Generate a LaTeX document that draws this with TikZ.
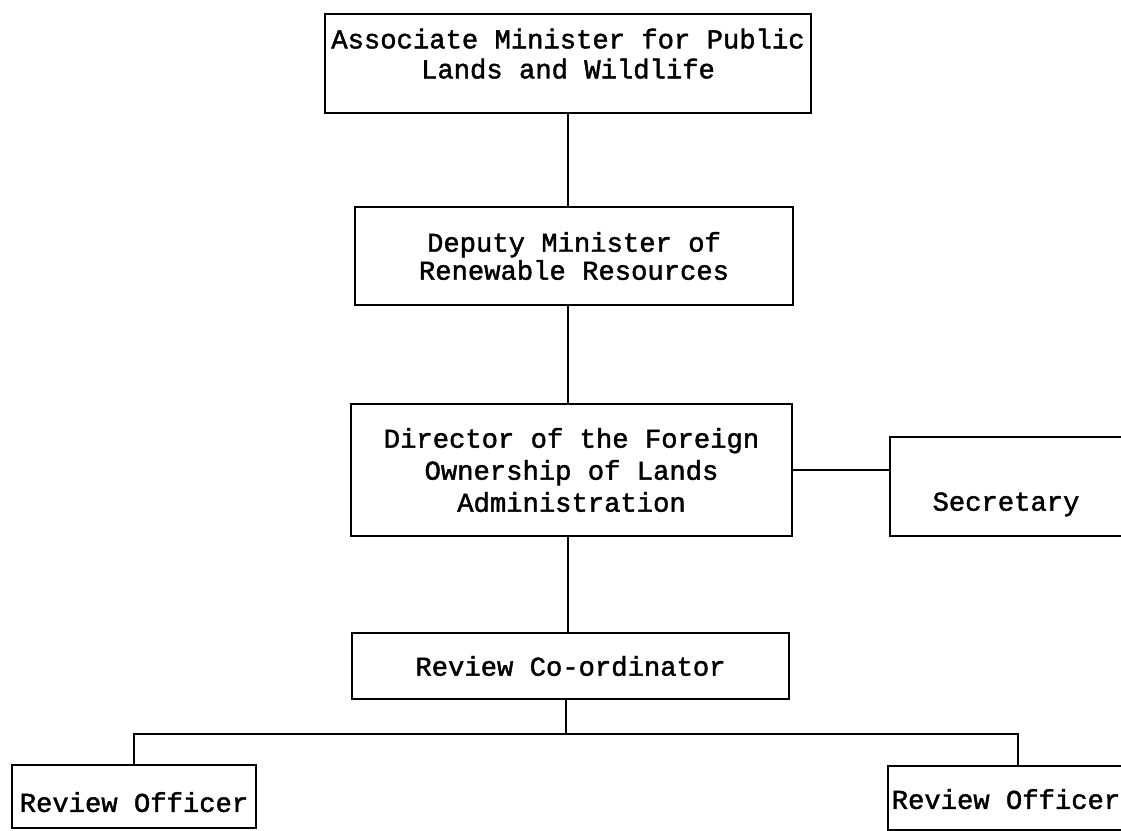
\documentclass[tikz,border=0pt]{standalone}
\usepackage{fontspec}
\newfontfamily\orgfont[FakeBold=1.6]{Liberation Mono}
\tikzset{
  orgbox/.style={draw, line width=2pt, align=center, inner sep=0pt,
    font=\orgfont\fontsize{27.2}{30}\selectfont},
  link/.style={line width=2pt}
}
\begin{document}
\begin{tikzpicture}[x=1pt,y=-1pt]
  \useasboundingbox (0,0) rectangle (1121,830);
  \clip (0,0) rectangle (1121,830);

  % Top: minister
  \node[orgbox, minimum width=486pt, minimum height=99pt, text depth=20pt] (assoc) at (568, 63.5)
    {Associate Minister for Public\\Lands and Wildlife};

  % Deputy
  \node[orgbox, minimum width=438pt, minimum height=98pt] (deputy) at (574, 256)
    {Deputy Minister of\\[-2pt]Renewable Resources};

  % Director and secretary
  \node[orgbox, minimum width=441pt, minimum height=132pt,
        font=\orgfont\fontsize{27.2}{32}\selectfont] (director) at (571.5, 470)
    {Director of the Foreign\\Ownership of Lands\\Administration};
  \node[orgbox, minimum width=232pt, minimum height=99pt, text height=54pt] (secretary) at (1006, 486.5)
    {Secretary};

  % Review staff
  \node[orgbox, minimum width=437pt, minimum height=66pt] (coord) at (570.5, 666)
    {Review Co-ordinator};
  \node[orgbox, minimum width=244pt, minimum height=63pt, text height=31pt] (officerL) at (134, 796.5)
    {Review Officer};
  \node[orgbox, minimum width=236pt, minimum height=64pt, text height=22pt] (officerR) at (1006, 798)
    {Review Officer};

  % connectors
  \draw[link] (assoc.south) -- (assoc.south |- deputy.north);
  \draw[link] (deputy.south -| assoc.south) -- (assoc.south |- director.north);
  \draw[link] (director.south -| assoc.south) -- (assoc.south |- coord.north);
  \draw[link] (director.east) -- (director.east -| secretary.west);

  \coordinate (bar) at (566, 734);
  \draw[link] (coord.south -| bar) -- (bar);
  \draw[link] (officerL.north) |- (bar) -| ([xshift=12pt]officerR.north);
\end{tikzpicture}
\end{document}
